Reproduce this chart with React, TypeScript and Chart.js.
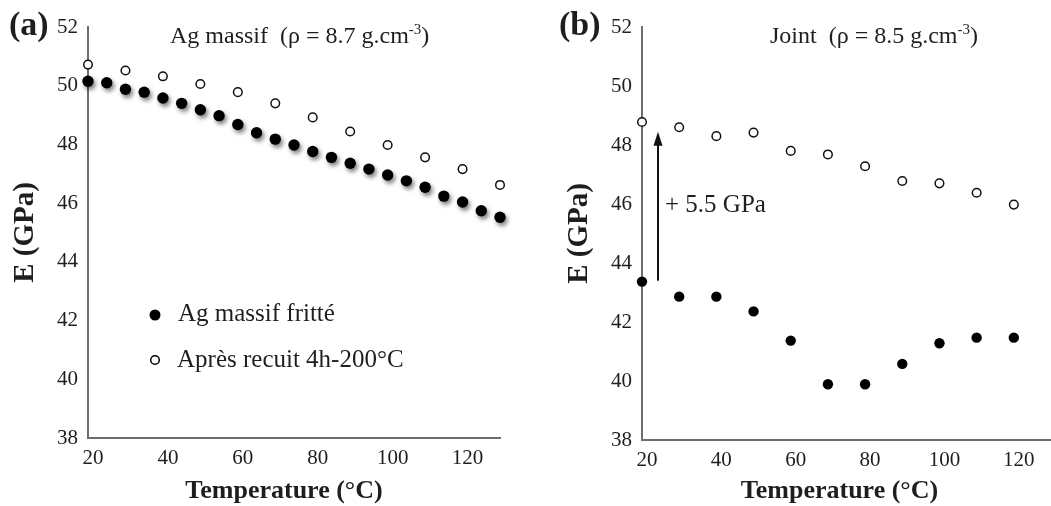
import React, { useEffect, useRef } from "react";
import { Chart, registerables } from "chart.js";

Chart.register(...registerables);

const SERIF = "'Liberation Serif', 'Times New Roman', serif";
const TEXT = "#1e1e1e";

// ---- shared axes ----
const xTickValues = [20, 40, 60, 80, 100, 120];
const yTickValues = [38, 40, 42, 44, 46, 48, 50, 52];
const xRange = [20, 130];
const yRange = [38, 52];
const xAxisTitle = "Temperature (°C)";
const yAxisTitle = "E (GPa)";

// ---- panel (a) : Ag massif ----
const tempFritte = [20, 25, 30, 35, 40, 45, 50, 55, 60, 65, 70, 75, 80, 85, 90, 95, 100, 105, 110, 115, 120, 125, 130];
const eFritte = [50.15, 50.1, 49.88, 49.78, 49.58, 49.4, 49.18, 48.98, 48.68, 48.4, 48.18, 47.98, 47.76, 47.56, 47.36, 47.16, 46.96, 46.76, 46.54, 46.24, 46.04, 45.74, 45.52];
const tempRecuitA = [20, 30, 40, 50, 60, 70, 80, 90, 100, 110, 120, 130];
const eRecuitA = [50.72, 50.52, 50.32, 50.06, 49.78, 49.4, 48.92, 48.44, 47.98, 47.56, 47.16, 46.62];
const legendLabelsA = ["Ag massif fritté", "Après recuit 4h-200°C"];

// ---- panel (b) : Joint ----
const tempJoint = [20, 30, 40, 50, 60, 70, 80, 90, 100, 110, 120];
const eJoint = [43.37, 42.86, 42.86, 42.36, 41.37, 39.89, 39.89, 40.58, 41.28, 41.47, 41.47];
const eJointRecuit = [48.78, 48.6, 48.3, 48.42, 47.8, 47.68, 47.28, 46.78, 46.7, 46.38, 45.98];
const arrowB = { x: 24.3, from: 43.4, to: 48.45, label: "+ 5.5 GPa", labelY: 46 };

const toPoints = (xs: number[], ys: number[]) => xs.map((x, i) => ({ x, y: ys[i] }));

type PanelCfg = {
  left: number;
  width: number;
  yAxisWidth: number;
  padRight: number;
  bottom: number;
  letter: string;
  letterX: number;
  titleMain: string;
  titleSup: string;
  titleEnd: string;
  titleX: number;
  xTitleShift: number;
  datasets: any[];
  legend?: boolean;
  arrow?: boolean;
};

const H = 506;

const shadowPlugin = {
  id: "pointShadow",
  beforeDatasetDraw(chart: any, args: any) {
    const ds = chart.data.datasets[args.index];
    if (ds.shadowed) {
      const ctx = chart.ctx;
      ctx.save();
      ctx.shadowColor = "rgba(0,0,0,0.5)";
      ctx.shadowBlur = 4;
      ctx.shadowOffsetX = 2;
      ctx.shadowOffsetY = 3;
    }
  },
  afterDatasetDraw(chart: any, args: any) {
    const ds = chart.data.datasets[args.index];
    if (ds.shadowed) chart.ctx.restore();
  },
};

function makeDecor(cfg: PanelCfg) {
  return {
    id: "decor",
    afterDraw(chart: any) {
      const ctx = chart.ctx;
      const xs = chart.scales.x;
      const ys = chart.scales.y;
      const area = chart.chartArea;
      ctx.save();
      ctx.fillStyle = TEXT;
      ctx.textAlign = "left";
      ctx.textBaseline = "alphabetic";
      // panel letter
      ctx.font = `bold 34px ${SERIF}`;
      ctx.fillText(cfg.letter, cfg.letterX, 35);
      // title with superscript
      ctx.font = `24px ${SERIF}`;
      let x = cfg.titleX;
      ctx.fillText(cfg.titleMain, x, 43);
      x += ctx.measureText(cfg.titleMain).width;
      ctx.font = `15px ${SERIF}`;
      ctx.fillText(cfg.titleSup, x, 34);
      x += ctx.measureText(cfg.titleSup).width;
      ctx.font = `24px ${SERIF}`;
      ctx.fillText(cfg.titleEnd, x, 43);

      // x axis title
      ctx.font = `bold 26px ${SERIF}`;
      ctx.textAlign = "center";
      ctx.fillText(xAxisTitle, (area.left + area.right) / 2 + cfg.xTitleShift, 498);
      ctx.textAlign = "left";

      if (cfg.legend) {
        const mx = area.left + 67;
        ctx.beginPath();
        ctx.arc(mx, 315, 5.5, 0, Math.PI * 2);
        ctx.fillStyle = "#000";
        ctx.fill();
        ctx.beginPath();
        ctx.arc(mx, 360, 4.3, 0, Math.PI * 2);
        ctx.fillStyle = "#fff";
        ctx.fill();
        ctx.lineWidth = 1.5;
        ctx.strokeStyle = "#000";
        ctx.stroke();
        ctx.fillStyle = TEXT;
        ctx.font = `25px ${SERIF}`;
        ctx.fillText(legendLabelsA[0], area.left + 90, 321);
        ctx.fillText(legendLabelsA[1], area.left + 89, 367);
      }

      if (cfg.arrow) {
        const ax = xs.getPixelForValue(arrowB.x);
        const y0 = ys.getPixelForValue(arrowB.from);
        const y1 = ys.getPixelForValue(arrowB.to);
        ctx.strokeStyle = "#111";
        ctx.fillStyle = "#111";
        ctx.lineWidth = 2;
        ctx.beginPath();
        ctx.moveTo(ax, y0);
        ctx.lineTo(ax, y1 + 10);
        ctx.stroke();
        ctx.beginPath();
        ctx.moveTo(ax, y1);
        ctx.lineTo(ax - 4.5, y1 + 14);
        ctx.lineTo(ax + 4.5, y1 + 14);
        ctx.closePath();
        ctx.fill();
        ctx.fillStyle = TEXT;
        ctx.font = `25px ${SERIF}`;
        ctx.fillText(arrowB.label, ax + 7, ys.getPixelForValue(arrowB.labelY) + 8);
      }
      ctx.restore();
    },
  };
}

function Panel({ cfg }: { cfg: PanelCfg }) {
  const ref = useRef<HTMLCanvasElement | null>(null);
  useEffect(() => {
    if (!ref.current) return;
    const chart = new Chart(ref.current, {
      type: "scatter",
      data: { datasets: cfg.datasets },
      plugins: [shadowPlugin, makeDecor(cfg)],
      options: {
        animation: false,
        responsive: false,
        devicePixelRatio: 1,
        layout: { autoPadding: false, padding: { left: 0, right: cfg.padRight, top: 27, bottom: 0 } },
        plugins: { legend: { display: false }, tooltip: { enabled: false } },
        scales: {
          x: {
            type: "linear",
            min: xRange[0],
            max: xRange[1],
            grid: { display: false, drawTicks: false },
            border: { display: true, color: "#6e6e6e", width: 2 },
            afterBuildTicks: (s: any) => {
              s.ticks = xTickValues.map((v) => ({ value: v }));
            },
            afterFit: (s: any) => {
              s.height = H - cfg.bottom;
              s.paddingLeft = 0;
              s.paddingRight = 0;
            },
            ticks: {
              color: TEXT,
              font: { family: SERIF, size: 21 },
              padding: 8,
              labelOffset: 5,
              maxRotation: 0,
              autoSkip: false,
            },
            title: { display: false },
          },
          y: {
            type: "linear",
            min: yRange[0],
            max: yRange[1],
            grid: { display: false, drawTicks: false },
            border: { display: true, color: "#6e6e6e", width: 2 },
            afterBuildTicks: (s: any) => {
              s.ticks = yTickValues.map((v) => ({ value: v }));
            },
            afterFit: (s: any) => {
              s.width = cfg.yAxisWidth;
              s.paddingTop = 0;
              s.paddingBottom = 0;
            },
            ticks: {
              color: TEXT,
              font: { family: SERIF, size: 21 },
              padding: 10,
              autoSkip: false,
            },
            title: {
              display: true,
              text: yAxisTitle,
              color: TEXT,
              font: { family: SERIF, size: 29, weight: "bold", lineHeight: 1 },
              padding: { top: cfg.yAxisWidth - 88 + 11, bottom: 0 },
            },
          },
        },
      },
    } as any);
    return () => chart.destroy();
  }, []);
  return (
    <canvas
      ref={ref}
      width={cfg.width}
      height={H}
      style={{ position: "absolute", left: cfg.left, top: 0, width: cfg.width, height: H }}
    />
  );
}

const filled = (data: any[], r: number, shadowed: boolean) => ({
  data,
  pointStyle: "circle",
  pointRadius: r,
  pointBackgroundColor: "#000",
  pointBorderColor: "#000",
  pointBorderWidth: 0,
  showLine: false,
  clip: false,
  shadowed,
});
const open = (data: any[]) => ({
  data,
  pointStyle: "circle",
  pointRadius: 4.3,
  pointBackgroundColor: "#fff",
  pointBorderColor: "#111",
  pointBorderWidth: 1.5,
  showLine: false,
  clip: false,
});

const panelA: PanelCfg = {
  left: 0,
  width: 525,
  yAxisWidth: 88,
  padRight: 25,
  bottom: 438,
  letter: "(a)",
  letterX: 9,
  titleMain: "Ag massif  (ρ = 8.7 g.cm",
  titleSup: "-3",
  titleEnd: ")",
  titleX: 170,
  xTitleShift: -10,
  legend: true,
  datasets: [filled(toPoints(tempFritte, eFritte), 5.7, true), open(toPoints(tempRecuitA, eRecuitA))],
};

const panelB: PanelCfg = {
  left: 525,
  width: 526,
  yAxisWidth: 117,
  padRight: 0,
  bottom: 440,
  letter: "(b)",
  letterX: 34,
  titleMain: "Joint  (ρ = 8.5 g.cm",
  titleSup: "-3",
  titleEnd: ")",
  titleX: 245,
  xTitleShift: -7,
  arrow: true,
  datasets: [open(toPoints(tempJoint, eJointRecuit)), filled(toPoints(tempJoint, eJoint), 5.2, false)],
};

export default function App() {
  return (
    <div style={{ position: "absolute", left: 0, top: 0, width: 1051, height: H, background: "#fff", overflow: "hidden" }}>
      <Panel cfg={panelA} />
      <Panel cfg={panelB} />
    </div>
  );
}
